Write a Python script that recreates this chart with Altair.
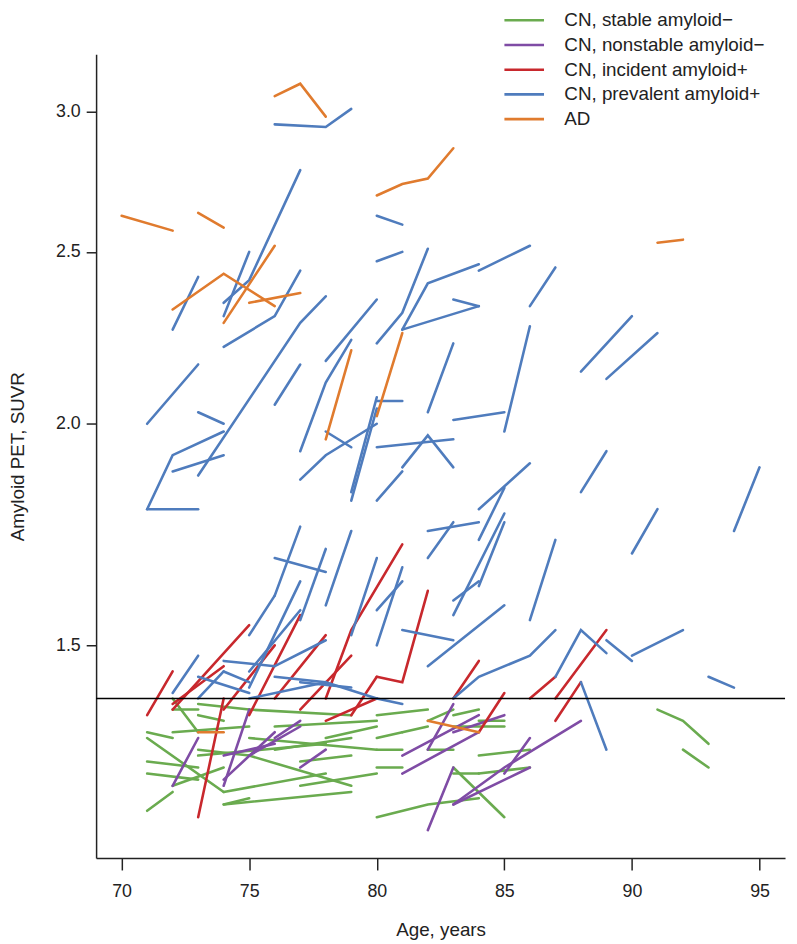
import altair as alt
import pandas as pd

groups = ["CN, stable amyloid−", "CN, nonstable amyloid−", "CN, incident amyloid+",
          "CN, prevalent amyloid+", "AD"]
colors = ["#6aab4f", "#7f4ca5", "#c8282d", "#4f7cbd", "#e07b2e"]

x_ticks = [70, 75, 80, 85, 90, 95]
y_ticks = [1.5, 2.0, 2.5, 3.0]
threshold = [1.40]

# ---- AD ----
ad_ages = [[76, 77, 78], [80, 81, 82, 83], [91, 92], [70, 72], [73, 74], [72, 74, 76],
           [75, 77], [74, 76], [78, 79], [80, 81], [73, 74], [82, 84]]
ad_suvr = [[3.06, 3.11, 2.98], [2.69, 2.73, 2.75, 2.86], [2.53, 2.54], [2.62, 2.57],
           [2.63, 2.58], [2.32, 2.43, 2.33], [2.34, 2.37], [2.28, 2.52], [1.96, 2.20],
           [2.02, 2.25], [1.34, 1.34], [1.36, 1.34]]

# ---- CN, prevalent amyloid+ ----
prev_ages = [[76, 78, 79], [74, 75, 77], [74, 75], [72, 73], [74, 76, 77], [73, 77, 78],
             [80, 81], [80, 81], [80, 81, 82], [81, 82, 84], [81, 84], [83, 84], [84, 86],
             [86, 87], [78, 80], [88, 90], [89, 91], [76, 78], [71, 73], [73, 74], [76, 77],
             [71, 72, 74], [71, 73], [72, 74], [77, 78, 79], [78, 79], [77, 78, 80], [79, 80],
             [79, 80], [80, 81], [82, 83], [85, 86], [83, 85], [80, 83], [81, 82, 83], [80, 81],
             [84, 86], [82, 84], [82, 83], [86, 87], [88, 89], [90, 91], [94, 95],
             [83, 84, 86, 87], [87, 88, 89], [89, 90], [90, 92], [93, 94], [88, 89], [81, 83],
             [82, 85], [80, 81], [75, 76], [72, 73], [83, 85], [84, 85], [84, 85],
             [76, 77], [77, 78], [78, 79], [79, 80], [80, 81], [75, 77], [76, 78], [77, 79],
             [74, 75], [73, 74], [75, 78], [78, 80],
             [73, 75], [74, 76], [75, 77], [76, 78], [80, 81], [83, 84]]
prev_suvr = [[2.95, 2.94, 3.01], [2.34, 2.41, 2.78], [2.30, 2.50], [2.26, 2.42],
             [2.21, 2.30, 2.44], [1.87, 2.28, 2.36], [2.62, 2.59], [2.47, 2.50],
             [2.22, 2.31, 2.51], [2.26, 2.40, 2.46], [2.26, 2.33], [2.35, 2.33], [2.44, 2.52],
             [2.33, 2.45], [2.17, 2.35], [2.14, 2.30], [2.12, 2.25], [1.68, 1.65], [2.00, 2.16],
             [2.03, 2.00], [2.05, 2.16], [1.79, 1.92, 1.98], [1.79, 1.79], [1.88, 1.92],
             [1.93, 2.11, 2.23], [1.98, 1.94], [1.86, 1.92, 2.00], [1.83, 2.07], [1.81, 2.04],
             [2.06, 2.06], [2.03, 2.22], [1.98, 2.27], [2.01, 2.03], [1.94, 1.96],
             [1.89, 1.97, 1.89], [1.81, 1.88], [1.79, 1.90], [1.74, 1.76], [1.68, 1.76],
             [1.55, 1.72], [1.83, 1.93], [1.69, 1.79], [1.74, 1.89], [1.40, 1.44, 1.48, 1.53],
             [1.44, 1.53, 1.485], [1.51, 1.47], [1.48, 1.53], [1.44, 1.42], [1.43, 1.31],
             [1.53, 1.51], [1.46, 1.58], [1.40, 1.39], [1.52, 1.60], [1.41, 1.48], [1.56, 1.78],
             [1.62, 1.76], [1.72, 1.84], [1.60, 1.75], [1.55, 1.70], [1.58, 1.74], [1.52, 1.68],
             [1.50, 1.66], [1.45, 1.57], [1.44, 1.43], [1.43, 1.42], [1.45, 1.43], [1.40, 1.45],
             [1.40, 1.43], [1.43, 1.40],
             [1.44, 1.41], [1.47, 1.46], [1.42, 1.63], [1.46, 1.51], [1.57, 1.63], [1.59, 1.63]]

# ---- CN, incident amyloid+ ----
inc_ages = [[71, 72], [72, 75], [73, 74], [72, 74], [80, 81, 82], [83, 84], [84, 85],
            [86, 87], [87, 89], [87, 88], [78, 79, 81], [76, 78], [74, 76], [75, 77],
            [77, 79], [79, 80], [78, 80]]
inc_suvr = [[1.37, 1.45], [1.38, 1.54], [1.20, 1.40], [1.39, 1.46], [1.44, 1.43, 1.61],
            [1.40, 1.47], [1.34, 1.41], [1.40, 1.44], [1.40, 1.53], [1.36, 1.43],
            [1.40, 1.53, 1.71], [1.40, 1.52], [1.38, 1.50], [1.37, 1.56], [1.38, 1.48],
            [1.37, 1.44], [1.36, 1.40]]

# ---- CN, nonstable amyloid- ----
non_ages = [[72, 73], [74, 75], [81, 84], [81, 84], [82, 83], [83, 85], [82, 83], [83, 86],
            [85, 86], [83, 85, 88], [74, 76], [75, 77], [74, 76], [76, 77], [77, 78]]
non_suvr = [[1.25, 1.33], [1.25, 1.38], [1.30, 1.37], [1.27, 1.34], [1.31, 1.39],
            [1.34, 1.37], [1.18, 1.28], [1.22, 1.28], [1.27, 1.33], [1.22, 1.28, 1.36],
            [1.26, 1.34], [1.30, 1.35], [1.30, 1.32], [1.33, 1.36], [1.28, 1.31]]

# ---- CN, stable amyloid- ----
sta_ages = [[72, 73], [72, 73], [73, 75], [73, 74], [71, 72], [72, 75], [71, 74], [71, 73],
            [71, 73], [71, 72], [72, 74], [73, 75], [74, 75], [80, 82], [82, 83], [83, 84],
            [83, 85], [84, 85], [81, 82], [80, 81], [80, 81], [80, 81], [82, 83], [83, 84],
            [83, 85], [80, 82, 84], [91, 92, 93], [92, 93], [84, 86], [84, 86],
            [75, 79], [75, 79], [74, 78], [75, 80], [76, 80], [77, 79], [78, 80], [74, 79],
            [76, 79], [77, 80], [73, 78]]
sta_suvr = [[1.40, 1.34], [1.38, 1.38], [1.39, 1.38], [1.37, 1.36], [1.34, 1.33],
            [1.34, 1.35], [1.33, 1.24], [1.29, 1.28], [1.27, 1.26], [1.21, 1.24],
            [1.25, 1.28], [1.31, 1.30], [1.22, 1.23], [1.37, 1.38], [1.36, 1.38],
            [1.37, 1.38], [1.35, 1.35], [1.36, 1.36], [1.34, 1.35], [1.33, 1.34],
            [1.31, 1.31], [1.28, 1.28], [1.31, 1.31], [1.27, 1.27], [1.28, 1.20],
            [1.20, 1.22, 1.23], [1.38, 1.36, 1.32], [1.31, 1.28], [1.30, 1.31], [1.27, 1.28],
            [1.38, 1.37], [1.30, 1.25], [1.24, 1.27], [1.33, 1.31], [1.35, 1.36],
            [1.29, 1.30], [1.33, 1.35], [1.22, 1.24],
            [1.31, 1.33], [1.25, 1.27], [1.30, 1.32]]

series = [(groups[0], sta_ages, sta_suvr), (groups[1], non_ages, non_suvr),
          (groups[2], inc_ages, inc_suvr), (groups[3], prev_ages, prev_suvr),
          (groups[4], ad_ages, ad_suvr)]

rows = []
sid = 0
for g, ages_list, suvr_list in series:
    for ages, vals in zip(ages_list, suvr_list):
        sid += 1
        for k, (a, v) in enumerate(zip(ages, vals)):
            rows.append({"id": sid, "group": g, "age": a, "suvr": v, "k": k})
df = pd.DataFrame(rows)

FONT = "Liberation Sans"
x_scale = alt.Scale(domain=[69, 96], nice=False, zero=False)
y_scale = alt.Scale(type="log", domain=[1.138, 3.231], nice=False, zero=False)

lines = alt.Chart(df).mark_line(strokeWidth=2.6, strokeCap="round").encode(
    x=alt.X("age:Q", scale=x_scale,
            axis=alt.Axis(values=x_ticks, title="Age, years", format="d")),
    y=alt.Y("suvr:Q", scale=y_scale,
            axis=alt.Axis(values=y_ticks, title="Amyloid PET, SUVR", format=".1f")),
    color=alt.Color("group:N", scale=alt.Scale(domain=groups, range=colors),
                    legend=alt.Legend(orient="none", legendX=411, legendY=-47, title=None,
                                      symbolType="stroke", symbolSize=1600,
                                      symbolStrokeWidth=2.6, labelFontSize=19,
                                      labelFont=FONT, labelColor="#222", labelLimit=400,
                                      labelOffset=19, clipHeight=25, rowPadding=0,
                                      padding=0)),
    detail="id:N",
    order="k:Q",
)

rule = alt.Chart(pd.DataFrame({"suvr": threshold})).mark_rule(
    color="black", strokeWidth=1.4).encode(y=alt.Y("suvr:Q", scale=y_scale))

chart = alt.layer(lines, rule).properties(
    width=696, height=812, autosize="none",
    padding={"left": 89, "top": 42, "right": 4, "bottom": 82},
).configure_view(stroke=None).configure_axis(
    grid=False, domainColor="#222", domainWidth=1.5, tickColor="#222", tickWidth=1.5,
    labelFont=FONT, labelFontSize=18, labelColor="#222",
    titleFont=FONT, titleFontSize=19, titleFontWeight="normal", titleColor="#222",
).configure_axisX(tickSize=12, labelPadding=13, titlePadding=20
).configure_axisY(tickSize=10, labelPadding=6, titlePadding=28)

chart.save("out.html", embed_options={"renderer": "svg", "actions": False})
